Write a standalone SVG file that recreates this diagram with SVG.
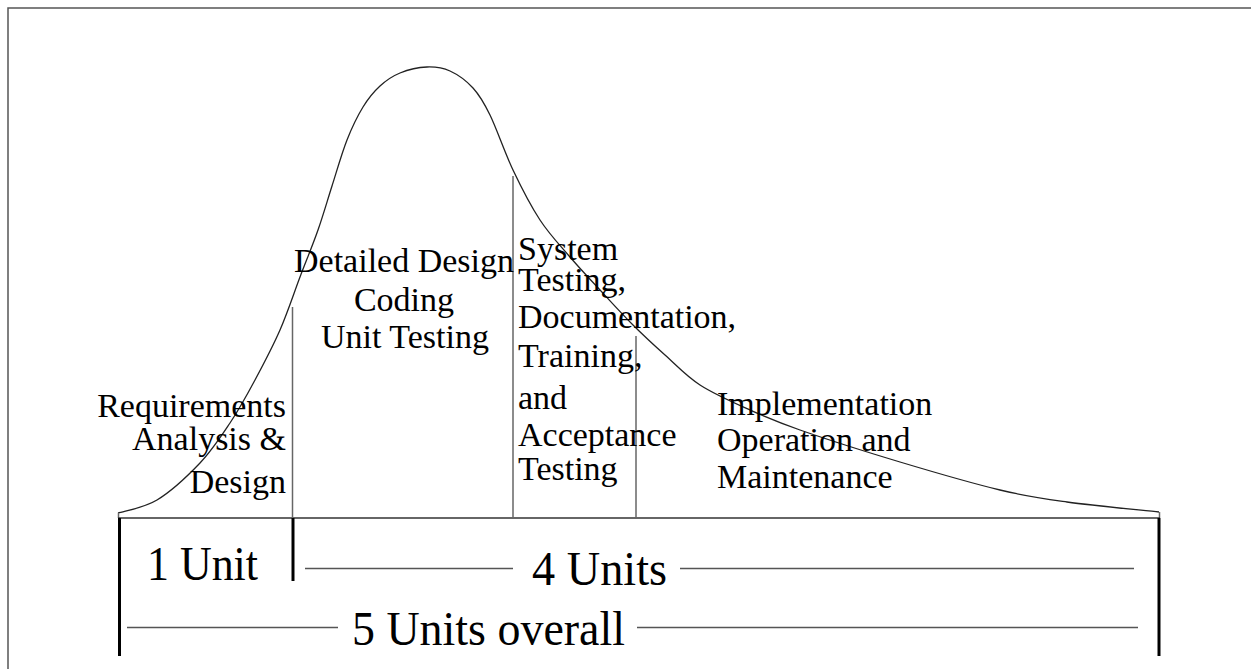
<svg xmlns="http://www.w3.org/2000/svg" width="1251" height="669" viewBox="0 0 1251 669">
  <style>
    .lbl { font-family: "Liberation Serif", "Times New Roman", serif; font-size: 34px; fill: #000; }
    .big { font-family: "Liberation Serif", "Times New Roman", serif; font-size: 48px; fill: #000; }
    .frame { fill: none; stroke: #555; stroke-width: 1.5; }
    .curve { fill: none; stroke: #222; stroke-width: 1.3; }
    .div { stroke: #666; stroke-width: 1.5; }
    .base { stroke: #333; stroke-width: 1.6; }
    .post { stroke: #000; stroke-width: 3; }
    .dim { stroke: #555; stroke-width: 1.4; }
  </style>
  <rect width="1251" height="669" fill="#fff"/>
  <!-- outer frame (open to the right and bottom edges) -->
  <rect class="frame" x="8" y="8" width="1300" height="700"/>

  <g id="connectors">
    <!-- effort curve over the life cycle -->
    <path class="curve" d="M118,513 C124.5,510.8 143.3,508.3 157,500 C170.7,491.7 187.8,475.8 200,463 C212.2,450.2 220.8,436.8 230,423 C239.2,409.2 246.7,395.5 255,380 C263.3,364.5 272.5,347.2 280,330 C287.5,312.8 293.7,293.7 300,277 C306.3,260.3 312.7,245.2 318,230 C323.3,214.8 327.2,201 332,186 C336.8,171 341.8,153.2 347,140 C352.2,126.8 357.5,116 363,107 C368.5,98 373.8,91.7 380,86 C386.2,80.3 392.2,76.2 400,73 C407.8,69.8 418.7,67.3 427,67 C435.3,66.7 442.3,67.5 450,71 C457.7,74.5 466.3,80.7 473,88 C479.7,95.3 483.3,101.3 490,115 C496.7,128.7 504.7,152.5 513,170 C521.3,187.5 530.5,205.5 540,220 C549.5,234.5 560,245.3 570,257 C580,268.7 589.5,278.7 600,290 C610.5,301.3 622.2,314.2 633,325 C643.8,335.8 653.8,345 665,355 C676.2,365 685.8,375.8 700,385 C714.2,394.2 733.3,402.5 750,410 C766.7,417.5 775,421.3 800,430 C825,438.7 866.7,452 900,462 C933.3,472 972.2,483.3 1000,490 C1027.8,496.7 1040.5,498.3 1067,502 C1093.5,505.7 1143.7,510.3 1159,512"/>
    <!-- small end ticks joining curve to baseline -->
    <line class="div" x1="118.5" y1="513" x2="118.5" y2="518"/>
    <line class="div" x1="1159.5" y1="512" x2="1159.5" y2="518"/>
    <!-- baseline -->
    <line class="base" x1="118" y1="518" x2="1160" y2="518"/>
    <!-- phase dividers -->
    <line class="div" x1="292.5" y1="307" x2="292.5" y2="518"/>
    <line class="div" x1="513" y1="176" x2="513" y2="518"/>
    <line class="div" x1="636" y1="336" x2="636" y2="518"/>
    <!-- unit posts -->
    <line class="post" x1="119.5" y1="518" x2="119.5" y2="656"/>
    <line class="post" x1="293" y1="518" x2="293" y2="581"/>
    <line class="post" x1="1159" y1="518" x2="1159" y2="656"/>
    <!-- dimension lines -->
    <line class="dim" x1="305" y1="568.5" x2="513" y2="568.5"/>
    <line class="dim" x1="680" y1="568.5" x2="1134" y2="568.5"/>
    <line class="dim" x1="127" y1="627.5" x2="338" y2="627.5"/>
    <line class="dim" x1="637" y1="627.5" x2="1138" y2="627.5"/>
  </g>

  <g id="phase-requirements">
    <text class="lbl" text-anchor="end" x="286" y="417">Requirements</text>
    <text class="lbl" text-anchor="end" x="286" y="450">Analysis &amp;</text>
    <text class="lbl" text-anchor="end" x="286" y="493">Design</text>
  </g>

  <g id="phase-detailed-design">
    <text class="lbl" text-anchor="middle" x="404" y="272">Detailed Design</text>
    <text class="lbl" text-anchor="middle" x="404" y="311">Coding</text>
    <text class="lbl" text-anchor="middle" x="405" y="348">Unit Testing</text>
  </g>

  <g id="phase-system-testing">
    <text class="lbl" x="518" y="260">System</text>
    <text class="lbl" x="518" y="291">Testing,</text>
    <text class="lbl" x="518" y="328">Documentation,</text>
    <text class="lbl" x="518" y="367">Training,</text>
    <text class="lbl" x="518" y="409">and</text>
    <text class="lbl" x="518" y="446">Acceptance</text>
    <text class="lbl" x="518" y="480">Testing</text>
  </g>

  <g id="phase-implementation">
    <text class="lbl" x="717" y="415">Implementation</text>
    <text class="lbl" x="717" y="451">Operation and</text>
    <text class="lbl" x="717" y="488">Maintenance</text>
  </g>

  <g id="unit-one">
    <text class="big" x="147" y="580" textLength="111" lengthAdjust="spacingAndGlyphs">1 Unit</text>
  </g>
  <g id="unit-four">
    <text class="big" x="532" y="585" textLength="135" lengthAdjust="spacingAndGlyphs">4 Units</text>
  </g>
  <g id="unit-overall">
    <text class="big" x="352" y="645" textLength="273" lengthAdjust="spacingAndGlyphs">5 Units overall</text>
  </g>
</svg>
